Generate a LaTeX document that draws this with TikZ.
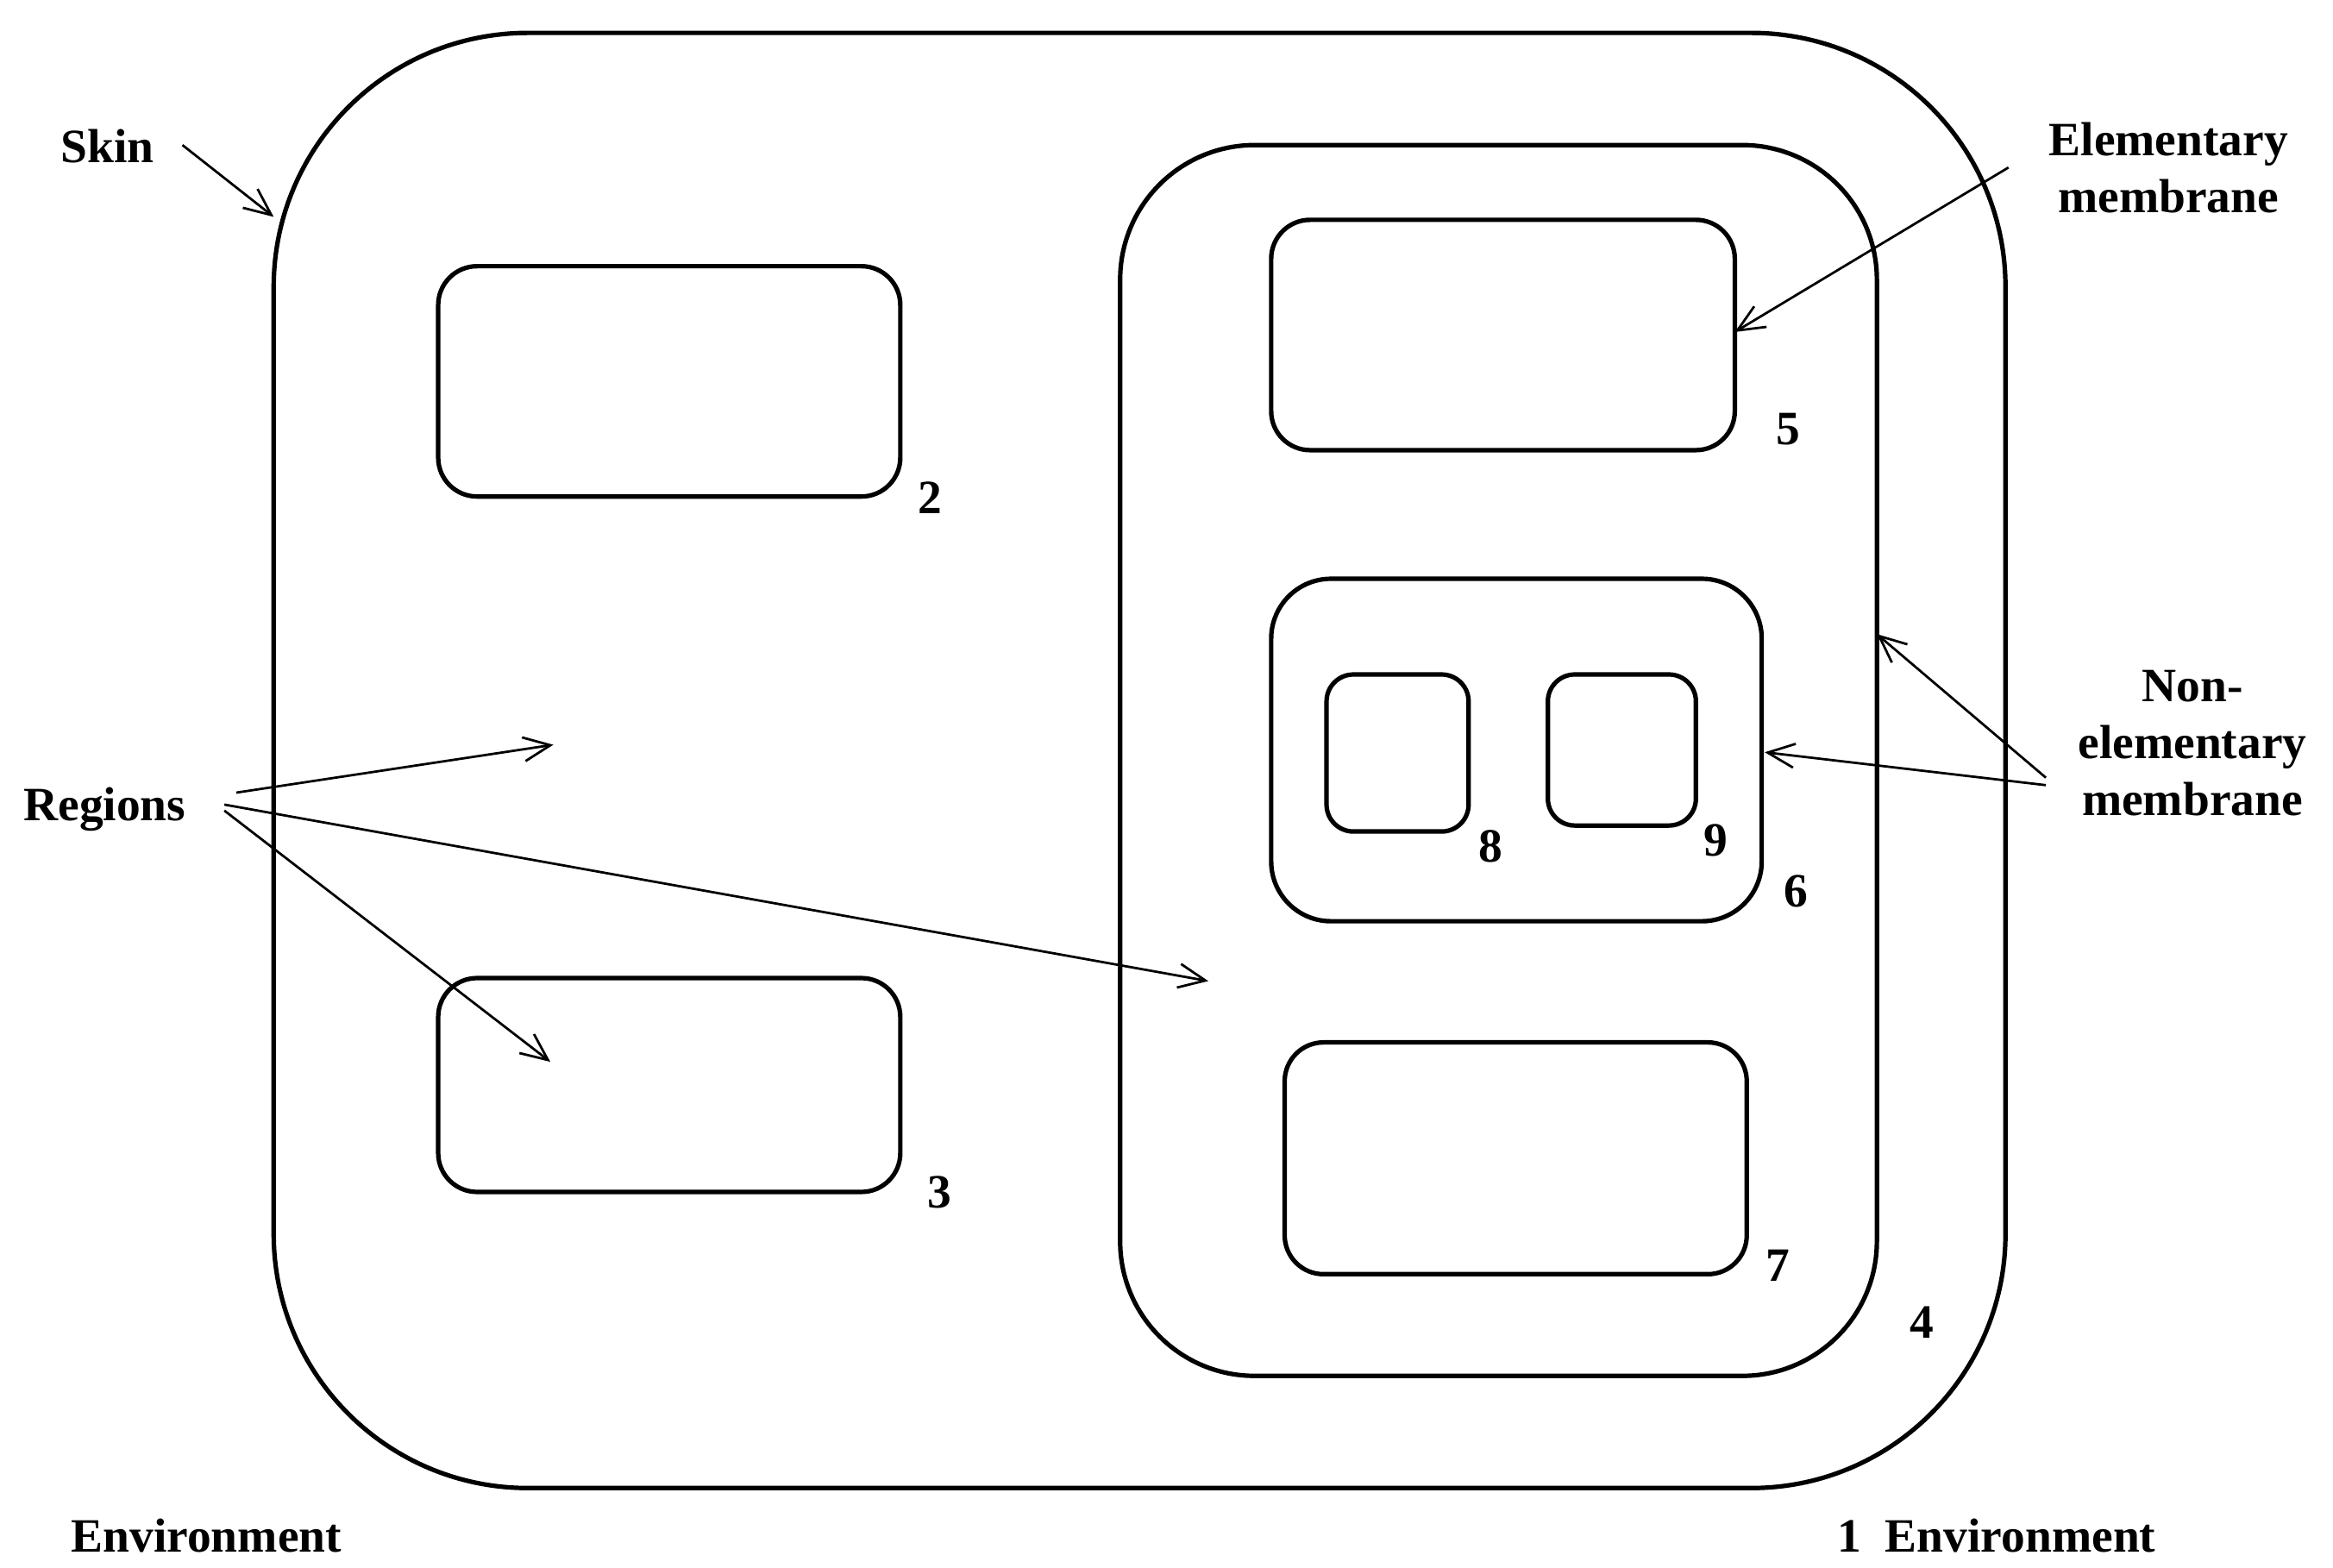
\documentclass[tikz,border=0pt]{standalone}
\usepackage{fontspec}
\setmainfont{Liberation Serif}
\usetikzlibrary{arrows.meta}
\begin{document}
\begin{tikzpicture}[x=0.5pt,y=-0.5pt,
  mem/.style={line width=1.5pt},
  lab/.style={font=\fontsize{16}{19}\selectfont\bfseries,inner sep=0pt},
  arr/.style={line width=0.8pt,-{Straight Barb[length=9pt,width=8pt]}}]
\useasboundingbox (0,0) rectangle (1560,1048);
\draw[mem,rounded corners=85pt] (183,22) rectangle (1341,995);
\draw[mem,rounded corners=45pt] (749,97) rectangle (1255,920);
\draw[mem,rounded corners=13pt] (293,178) rectangle (602,332);
\draw[mem,rounded corners=13pt] (293,654) rectangle (602,797);
\draw[mem,rounded corners=13pt] (850,147) rectangle (1160,301);
\draw[mem,rounded corners=20pt] (850,387) rectangle (1178,616);
\draw[mem,rounded corners=9pt] (887,451) rectangle (982,556);
\draw[mem,rounded corners=9pt] (1035,451) rectangle (1134,552);
\draw[mem,rounded corners=13pt] (859,697) rectangle (1168,852);
\node[lab] (n2) at (622,333) {2};
\node[lab] (n3) at (628,797) {3};
\node[lab] (n5) at (1196,287) {5};
\node[lab] (n6) at (1201,596) {6};
\node[lab] (n8) at (997,566) {8};
\node[lab] (n9) at (1147,562) {9};
\node[lab] (n7) at (1189,846) {7};
\node[lab] (n4) at (1285,884) {4};
\node[lab] (env1) at (1335,1027) {1\ \ Environment};
\node[lab] (env) at (138,1027) {Environment};
\node[lab] (skin) at (72,98) {Skin};
\node[lab,align=center] (elem) at (1450,112) {Elementary\\membrane};
\node[lab,align=center] (nonel) at (1466,497) {Non-\\elementary\\membrane};
\node[lab] (reg) at (70,541) {Regions};
\coordinate (sk1) at (183,145);
\coordinate (el1) at (1160,222);
\coordinate (ne1) at (1255,424);
\coordinate (ne2) at (1180,503);
\coordinate (r1) at (370,498);
\coordinate (r2) at (808,656);
\coordinate (r3) at (368,710);
\draw[arr] (122,97) -- (sk1);
\draw[arr] (1343,112) -- (el1);
\draw[arr] (1368,520) -- (ne1);
\draw[arr] (1368,525) -- (ne2);
\draw[arr] (158,530) -- (r1);
\draw[arr] (150,538) -- (r2);
\draw[arr] (150,542) -- (r3);
\end{tikzpicture}
\end{document}
